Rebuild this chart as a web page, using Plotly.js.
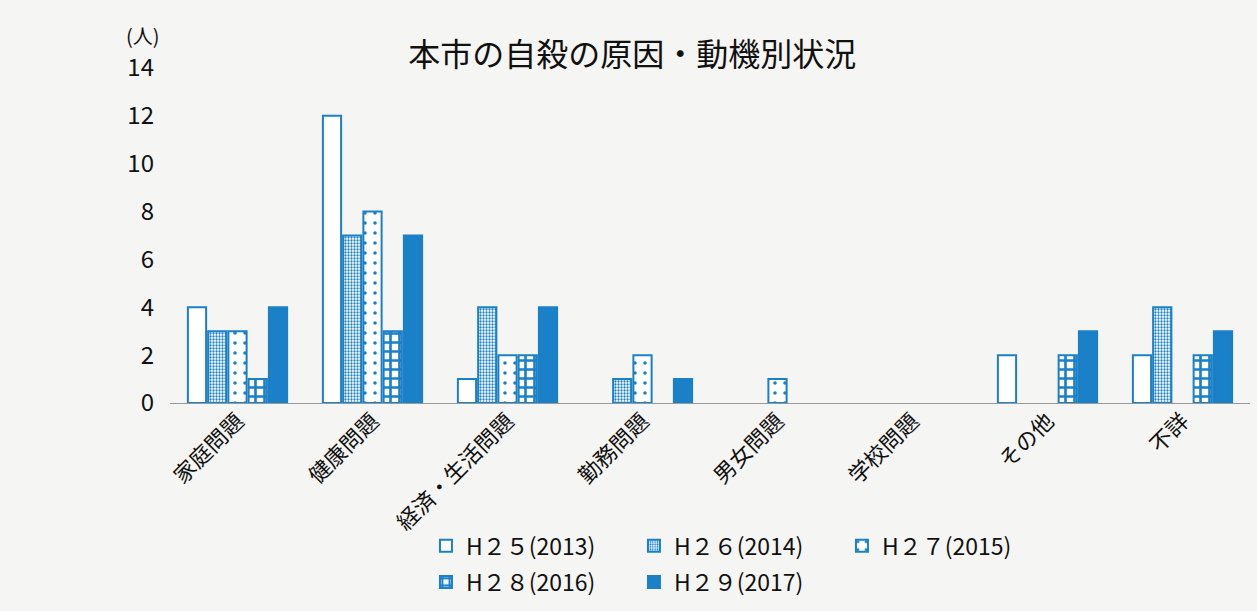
<!DOCTYPE html>
<html>
<head>
<meta charset="utf-8">
<script src="https://cdn.plot.ly/plotly-3.0.1.min.js"></script>
<style>html,body{margin:0;padding:0;background:#f5f5f3;}#chart{width:1257px;height:611px;}</style>
</head>
<body>
<div id="chart"></div>
<script>
const categories = ['家庭問題','健康問題','経済・生活問題','勤務問題','男女問題','学校問題','その他','不詳'];
const seriesNames = ['H２５(2013)','H２６(2014)','H２７(2015)','H２８(2016)','H２９(2017)'];
const h25 = [4,12,1,0,0,0,2,2];
const h26 = [3,7,4,1,0,0,0,4];
const h27 = [3,8,2,2,1,0,0,0];
const h28 = [1,3,2,0,0,0,2,2];
const h29 = [4,7,4,1,0,0,3,3];
const yTicks = [0,2,4,6,8,10,12,14];

const BLUE = '#1a80c8';
const FONT = '"Noto Sans CJK JP", "Noto Sans", sans-serif';

function bar(name, vals, pattern, color, legend){
  return {
    type:'bar', name:name, x:categories, y:vals, legend:legend,
    marker:{color:color, line:{color:BLUE, width:vals.map(v => v ? 2 : 0)}, pattern:pattern}
  };
}
const data = [
  bar(seriesNames[0], h25, {shape:''}, '#ffffff', 'legend'),
  bar(seriesNames[1], h26, {shape:'.', fgcolor:BLUE, bgcolor:'#ffffff', size:3, solidity:0.45, fillmode:'replace'}, '#ffffff', 'legend'),
  bar(seriesNames[2], h27, {shape:'.', fgcolor:BLUE, bgcolor:'#ffffff', size:10, solidity:0.1, fillmode:'replace'}, '#ffffff', 'legend'),
  bar(seriesNames[3], h28, {shape:'+', fgcolor:BLUE, bgcolor:'#ffffff', size:9, solidity:0.5, fillmode:'replace'}, '#ffffff', 'legend2'),
  bar(seriesNames[4], h29, {shape:''}, BLUE, 'legend2')
];

const legendBase = {orientation:'h', x:0.237, xanchor:'left', yanchor:'top', entrywidth:163, font:{size:23, family:FONT, color:'#111'}, bgcolor:'rgba(0,0,0,0)', itemwidth:30};
const layout = {
  width:1257, height:611,
  paper_bgcolor:'#f5f5f3', plot_bgcolor:'#f5f5f3',
  margin:{l:170, r:7, t:68, b:205},
  font:{family:FONT, color:'#222'},
  title:{text:'本市の自殺の原因・動機別状況', font:{size:32, family:FONT, color:'#111'}, x:0.503, xanchor:'center', y:0.91, yanchor:'middle', yref:'container'},
  bargap:0.25, bargroupgap:0.1, barmode:'group',
  xaxis:{tickangle:-45, tickfont:{size:22, family:FONT, color:'#111'}, showline:false, ticks:'', showgrid:false, zeroline:false},
  yaxis:{range:[0,14], tickvals:yTicks, ticktext:yTicks.map(String), tickfont:{size:24, family:FONT, color:'#111'}, showgrid:false, zeroline:true, zerolinecolor:'#999', zerolinewidth:1, ticks:'', ticklabelstandoff:15},
  showlegend:true,
  legend:Object.assign({}, legendBase, {y:-0.362}),
  legend2:Object.assign({}, legendBase, {y:-0.47}),
  annotations:[{text:'(人)', xref:'paper', yref:'paper', x:-0.025, y:1.048, xanchor:'center', yanchor:'bottom', showarrow:false, font:{size:20, family:FONT, color:'#111'}}]
};
Plotly.newPlot('chart', data, layout, {displayModeBar:false, staticPlot:true});
</script>
</body>
</html>
